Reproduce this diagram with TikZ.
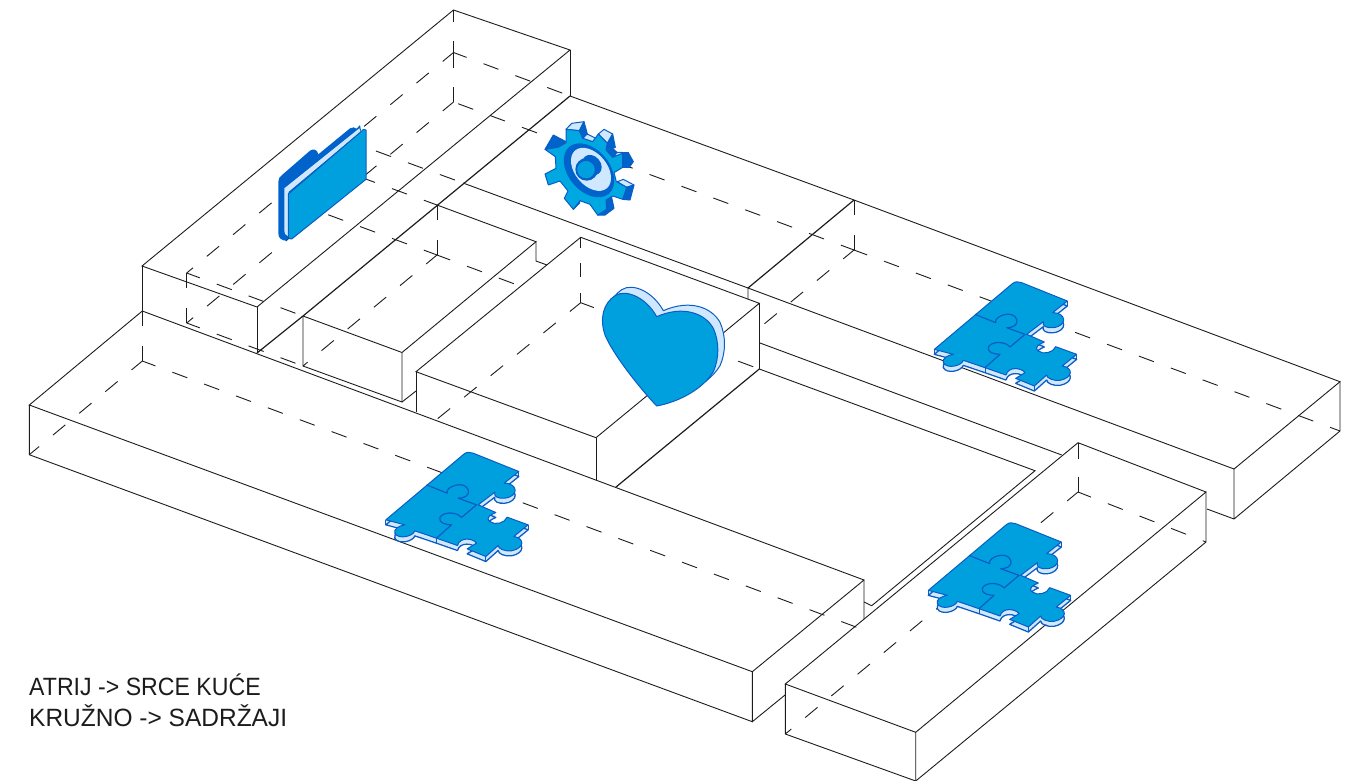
\documentclass[tikz,border=0pt]{standalone}
\usepackage{fontspec}
\setmainfont{Liberation Sans}
\newfontfamily\labfonta[FakeStretch=0.925]{Liberation Sans}
\newfontfamily\labfontb[FakeStretch=0.98]{Liberation Sans}
\definecolor{ink}{HTML}{1C1C1C}
\definecolor{iconblue}{HTML}{00A0DE}
\definecolor{icondark}{HTML}{0063CC}
\definecolor{iconedge}{HTML}{0B5CC4}
\definecolor{iconlight}{HTML}{CFE8FF}
\tikzset{
  wall/.style={draw=ink,line width=0.9pt,line join=miter},
  bold/.style={draw=ink,line width=1.2pt},
  hid/.style={draw=ink,line width=0.9pt,dash pattern=on 16 off 18,dash phase=2},
  vhid/.style={draw=ink,line width=0.9pt,dash pattern=on 15 off 20},
  iconline/.style={draw=iconedge,line width=1pt,line join=round},
  gdark/.style={iconline,fill=icondark},
  glight/.style={iconline,fill=iconlight},
  lab/.style={inner sep=0pt,anchor=base west,text=ink}
}
% puzzle outline, in 3x-zoom units
\def\puzzpath{(28,235) -- (262,38) .. controls (272,30) and (280,32) .. (290,35) -- (427,90) -- (383,125)
 .. controls (425,125) and (428,165) .. (385,170) .. controls (365,172) and (350,165) .. (355,152) -- (305,190)
 -- (358,213) .. controls (345,218) and (325,228) .. (340,240) .. controls (355,252) and (385,245) .. (392,227)
 -- (455,250) -- (412,285) .. controls (445,290) and (445,320) .. (405,328) .. controls (385,330) and (365,322) .. (365,312)
 -- (328,345) -- (272,322) -- (300,305) .. controls (290,290) and (250,285) .. (243,312) -- (180,290) -- (115,268)
 .. controls (110,285) and (65,295) .. (55,275) .. controls (50,262) and (70,252) .. (85,250) -- cycle}
\newcommand\puzz[2]{%
 \begin{scope}[shift={(#1,#2)},scale=0.33333]
  \foreach \s in {3,6,9,12}{\fill[iconlight,shift={(0,\s)}] \puzzpath;}
  \path[iconline,line width=1.3pt,shift={(0,15)}] \puzzpath;
  \path[iconline,fill=iconblue] \puzzpath;
  \draw[iconline,line width=1.2pt] (150,130) -- (212,155) .. controls (205,135) and (265,115) .. (275,145)
    .. controls (280,165) and (260,170) .. (245,170) -- (300,190) -- (255,228)
    .. controls (240,210) and (200,210) .. (190,228) .. controls (185,245) and (210,250) .. (225,250) -- (180,290);
  \draw[iconline] (28,235)--(28,250) (427,90)--(427,105) (455,250)--(455,265) (328,345)--(328,360) (180,290)--(180,305);
 \end{scope}}
\begin{document}
\begin{tikzpicture}[x=1pt,y=-1pt]
\useasboundingbox (0,0) rectangle (1357,780);
% ---- box A
\path[wall] (453.5,10) -- (570,50) -- (257,307) -- (142,266) -- cycle;
\path[wall] (142,266) -- (142,311) (257,307) -- (257,353) (570,50) -- (570,96);
\path[bold] (570,96) -- (303,316) -- (257,353);
\path[vhid,dash pattern=on 12 off 19] (453.5,10) -- (453.5,52.5);
\path[vhid,dash pattern=on 15.5 off 19] (453.5,52.5) -- (453.5,102);
\path[vhid] (186.7,273) -- (186.7,323);
\path[vhid] (142.3,311) -- (142.3,361);
\path[hid] (453.5,52.5) -- (570,96);
\path[hid] (453.5,52.5) -- (186.7,273);
\path[hid] (453.5,102) -- (186.7,323);
\path[hid] (186.7,273) -- (303,316);
\path[hid] (186.7,323) -- (303,366);
\path[hid] (346,140) -- (463,183);
\path[hid] (437,205) -- (319,162);
% ---- box C
\path[wall] (303,316) -- (402,352.5) -- (536,241.7) -- (437,205);
\path[wall] (303,316) -- (303,366) -- (402,402) -- (402,352.5);
\path[wall] (536,241.7) -- (536,261) -- (547,265) (402,402) -- (416,391);
\path[vhid,dash pattern=on 15 off 20] (437,205) -- (437,255);
\path[hid] (437,255) -- (303,366);
\path[hid] (437,255) -- (318,211);
\path[hid] (437,255) -- (520,286);
% ---- box D
\path[wall] (580.7,237.3) -- (759.3,303.3) -- (596,437.7) -- (416,371.7) -- cycle;
\path[wall] (416,371.7) -- (416,412) (596,437.7) -- (596,480) (759.3,303.3) -- (759.3,369);
\path[bold] (759.3,369) -- (616,487);
\path[vhid,dash pattern=on 11 off 15 on 14 off 16] (580.7,237.3) -- (580.7,302.7);
\path[hid] (580.7,302.7) -- (759.3,369);
\path[hid] (580.7,302.7) -- (436,420);
% ---- box E
\path[wall] (463,183) -- (748,288) -- (1234,469) -- (1340,381.7) -- (854,200) -- (570,96);
\path[bold] (748,288) -- (854,200);
\path[wall] (748,288) -- (748,299) (1234,469) -- (1234,519) (1340,381.7) -- (1340,431) -- (1234,519) -- (1207,509);
\path[vhid] (854,200) -- (854,250);
\path[hid] (854,250) -- (453.5,102);
\path[hid] (854,250) -- (1340,431);
\path[hid] (854,250) -- (759.3,328);
% ---- courtyard
\path[wall] (760,343) -- (1061.7,455);
\path[wall] (759.3,369) -- (1035,470.7) -- (871.7,605.7) -- (864,602);
% ---- box F
\path[wall] (142.3,311) -- (864,580) -- (752.3,671.7) -- (29.3,405) -- cycle;
\path[wall] (29.3,405) -- (29.3,454.7) -- (752.3,721.7) -- (752.3,671.7) (864,580) -- (864,619) (752.3,721.7) -- (785,695);
\path[hid] (142.3,361) -- (864,630);
\path[hid] (142.3,361) -- (29.3,454.7);
% ---- box H
\path[wall] (1078,442.7) -- (1206,492) -- (915.7,732.3) -- (785.3,684) -- cycle;
\path[wall] (785.3,684) -- (785.3,734) -- (915.7,781) -- (1206,542) -- (1206,492) (915.7,732.3) -- (915.7,781);
\path[vhid,dash pattern=on 16 off 18] (1078,442.7) -- (1078,492);
\path[hid] (1078,492) -- (785.3,734);
\path[hid] (1078,492) -- (1206,542);
% ---- puzzles
\puzz{925}{271}
\puzz{376.5}{441.5}
\puzz{919}{512}
% ---- folder
\begin{scope}[shift={(260,110)},scale=0.33333]
 \fill[icondark] (55,215) .. controls (55,205) and (60,200) .. (65,196) -- (150,122) .. controls (160,115) and (172,118) .. (175,133)
   -- (270,55) .. controls (278,50) and (285,52) .. (290,56) -- (300,45) -- (303,62) -- (80,392) .. controls (65,392) and (55,385) .. (55,370) -- cycle;
 \fill[iconlight] (73,235) -- (298,55) -- (302,65) -- (86,245) -- (86,380) .. controls (78,378) and (73,370) .. (73,360) -- cycle;
 \path[iconline,fill=iconblue] (85,252) -- (303,65) .. controls (308,58) and (312,56) .. (318,60) -- (318,208) -- (95,387)
   .. controls (90,388) and (85,385) .. (85,380) -- cycle;
\end{scope}
% ---- gear
\begin{scope}[shift={(530,110)},scale=0.33333]
 \path[gdark] (45,118) -- (70,75) -- (108,95) -- (85,112) -- cycle;
 \path[glight] (108,58) -- (125,40) -- (162,35) -- (148,62) -- cycle;
 \path[gdark] (148,62) -- (162,35) -- (172,72) -- (158,85) -- cycle;
 \path[glight] (158,85) -- (172,72) -- (198,85) -- (188,95) -- cycle;
 \path[glight] (205,72) -- (222,58) -- (248,72) -- (232,100) -- cycle;
 \path[gdark] (232,100) -- (248,72) -- (256,112) -- (228,122) -- cycle;
 \path[gdark] (228,120) -- (240,108) -- (262,128) -- (248,142) -- cycle;
 \path[glight] (248,142) -- (262,127) -- (295,128) -- (278,130) -- cycle;
 \path[gdark] (278,130) -- (295,128) -- (310,155) -- (298,172) -- (278,172) -- cycle;
 \path[glight] (262,215) -- (280,208) -- (312,225) -- (290,232) -- cycle;
 \path[gdark] (290,232) -- (312,225) -- (300,270) -- (278,268) -- cycle;
 \path[gdark] (228,270) -- (245,262) -- (252,295) -- (225,315) -- (203,315) -- cycle;
 \path[gdark] (130,298) -- (148,280) -- (150,272) -- cycle;
 \path[iconline,fill=iconblue!92!cyan] (108,58) -- (148,62) -- (158,85) -- (188,95) -- (205,72) -- (232,100) -- (228,120) -- (248,142) -- (278,130)
   -- (278,172) -- (252,188) -- (259,215) -- (290,232) -- (278,268) -- (248,258) -- (228,270) -- (230,298) -- (203,315) -- (180,283) -- (150,272)
   -- (130,298) -- (103,265) -- (114,243) -- (90,213) -- (55,225) -- (45,192) -- (78,175) -- (76,140) -- (45,118) -- (85,112) -- (108,98) -- cycle;
 \fill[icondark,rotate around={-50:(177,181)}] (177,181) ellipse (92 and 62);
 \fill[iconlight,rotate around={-50:(183,178)}] (183,178) ellipse (74 and 48);
 \fill[icondark,rotate around={-50:(186,165)}] (186,165) ellipse (33 and 26);
 \fill[icondark] (170,178) circle (34);
 \path[iconline,fill=iconblue] (168,179) circle (28);
\end{scope}
% ---- heart
\begin{scope}[shift={(590,275)},scale=0.33333]
 \def\heartpath{(200,125) .. controls (170,70) and (110,40) .. (75,62) .. controls (40,85) and (28,130) .. (45,180)
   .. controls (70,240) and (150,340) .. (200,393) .. controls (270,380) and (340,340) .. (370,290)
   .. controls (388,250) and (388,200) .. (370,160) .. controls (345,115) and (280,90) .. (200,125) -- cycle}
 \path[iconline,fill=iconlight,shift={(20,-18)}] \heartpath;
 \path[iconline,fill=iconblue] \heartpath;
\end{scope}
% ---- text
\node[lab,font=\labfonta\fontsize{25}{25}\selectfont] (t1) at (29,695) {ATRIJ -> SRCE KUĆE};
\node[lab,font=\labfontb\fontsize{25}{25}\selectfont] (t2) at (29,726.7) {KRUŽNO -> SADRŽAJI};
\end{tikzpicture}
\end{document}
